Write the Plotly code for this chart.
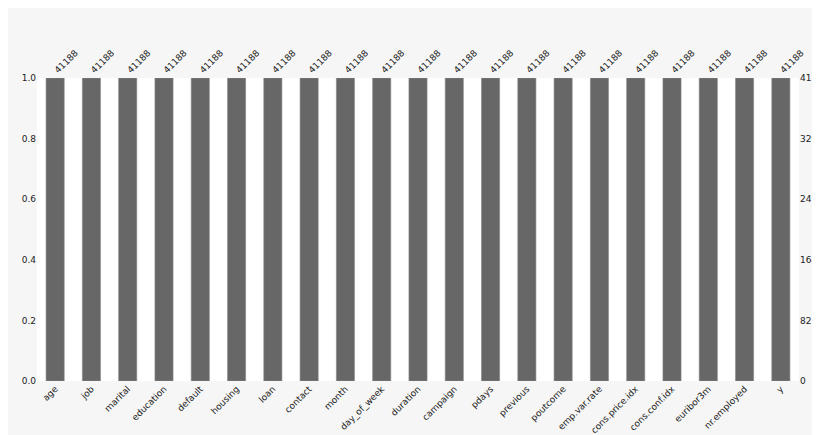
import plotly.graph_objects as go

columns = ['age', 'job', 'marital', 'education', 'default', 'housing', 'loan',
           'contact', 'month', 'day_of_week', 'duration', 'campaign', 'pdays',
           'previous', 'poutcome', 'emp.var.rate', 'cons.price.idx',
           'cons.conf.idx', 'euribor3m', 'nr.employed', 'y']
counts = [41188] * len(columns)
total = 41188
right_ticks = [0, 8237, 16475, 24712, 32950, 41188]

fig = go.Figure()
fig.add_trace(go.Bar(x=list(range(len(columns))), y=[c / total for c in counts], width=0.5,
                     marker=dict(color='#676767', line=dict(color='#8a8a8a', width=0.6))))
# invisible trace to carry the top / right axes
fig.add_trace(go.Scatter(x=list(range(len(columns))), y=counts, xaxis='x2', yaxis='y2',
                         mode='markers', marker=dict(opacity=0), hoverinfo='skip'))

tf = dict(family='DejaVu Sans', size=9, color='#222')
xr = [-0.5, len(columns) - 0.5]
fig.update_layout(
    width=820, height=435, showlegend=False,
    paper_bgcolor='#f6f6f6', plot_bgcolor='white',
    margin=dict(l=29, r=29, t=70, b=62),
    font=tf,
    xaxis=dict(tickangle=-45, showgrid=False, showline=False, ticks='', range=xr,
               tickmode='array', tickvals=list(range(len(columns))), ticktext=columns,
               tickfont=tf, automargin=False),
    xaxis2=dict(overlaying='x', side='top', tickangle=-45, showgrid=False,
                ticks='', range=xr, tickmode='array',
                tickvals=list(range(len(columns))),
                ticktext=[str(c) for c in counts], tickfont=tf, automargin=False),
    yaxis=dict(range=[0, 1], tickvals=[0, 0.2, 0.4, 0.6, 0.8, 1.0],
               ticktext=['0.0', '0.2', '0.4', '0.6', '0.8', '1.0'],
               showgrid=False, zeroline=False, ticks='', tickfont=tf, automargin=False),
    yaxis2=dict(overlaying='y', side='right', range=[0, total],
                tickvals=right_ticks, ticktext=[str(t) for t in right_ticks],
                showgrid=False, zeroline=False, ticks='', tickfont=tf, automargin=False),
)

fig.write_html("out.html")
